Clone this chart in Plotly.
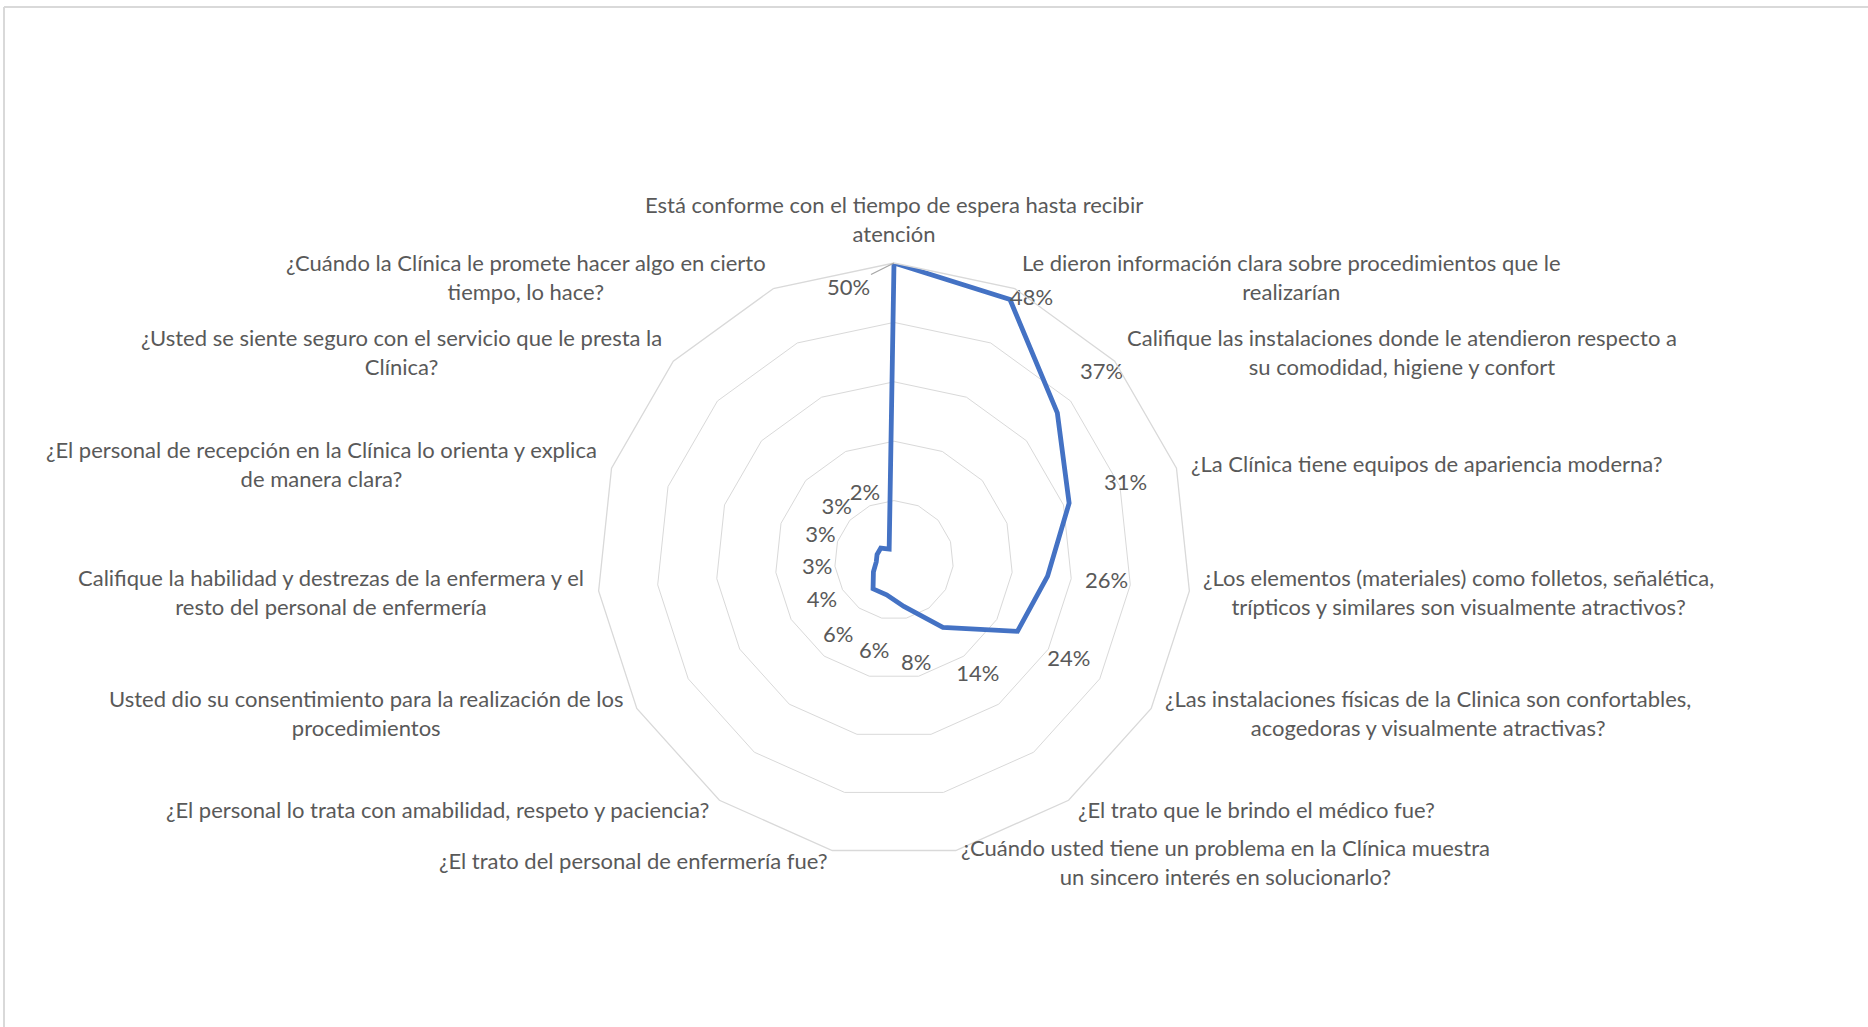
import plotly.graph_objects as go

# Survey items (clockwise from the top) and the share of answers for each one
categories = [
    "Está conforme con el tiempo de espera hasta recibir<br>atención",
    "Le dieron información clara sobre procedimientos que le<br>realizarían",
    "Califique las instalaciones donde le atendieron respecto a<br>su comodidad, higiene y confort",
    "¿La Clínica tiene equipos de apariencia moderna?",
    "¿Los elementos (materiales) como folletos, señalética,<br>trípticos y similares son visualmente atractivos?",
    "¿Las instalaciones físicas de la Clinica son confortables,<br>acogedoras y visualmente atractivas?",
    "¿El trato que le brindo el médico fue?",
    "¿Cuándo usted tiene un problema en la Clínica muestra<br>un sincero interés en solucionarlo?",
    "¿El trato del personal de enfermería fue?",
    "¿El personal lo trata con amabilidad, respeto y paciencia?",
    "Usted dio su consentimiento para la realización de los<br>procedimientos",
    "Califique la habilidad y destrezas de la enfermera y el<br>resto del personal de enfermería",
    "¿El personal de recepción en la Clínica lo orienta y explica<br>de manera clara?",
    "¿Usted se siente seguro con el servicio que le presta la<br>Clínica?",
    "¿Cuándo la Clínica le promete hacer algo en cierto<br>tiempo, lo hace?",
]
values = [50, 48, 37, 31, 26, 24, 14, 8, 6, 6, 4, 3, 3, 3, 2]
radial_ticks = [0, 10, 20, 30, 40, 50]

W, H = 1868, 1027
TEXT = "#595959"
GRID = "#D9D9D9"
FONT = "Lato"
FS = 22

# polar area in pixels: centre and outer radius
CX, CY, R = 894, 560, 297
RMAX = radial_ticks[-1]

# label block placement: (xanchor, x pixel of anchored edge, y pixel of block centre)
label_layout = [
    ("center", 894, 219),
    ("left", 1020, 277),
    ("left", 1125, 352),
    ("left", 1189, 463),
    ("left", 1201, 592),
    ("left", 1163, 713),
    ("left", 1076, 809),
    ("left", 959, 862),
    ("right", 830, 860),
    ("right", 711, 809),
    ("right", 625, 713),
    ("right", 586, 592),
    ("right", 599, 464),
    ("right", 664, 352),
    ("right", 768, 277),
]

fig = go.Figure()

# the series outline
fig.add_trace(go.Scatterpolar(
    r=values + values[:1],
    theta=categories + categories[:1],
    mode="lines",
    line=dict(color="#4472C4", width=4.8),
    hoverinfo="skip",
))

# value labels, pushed outward along each spoke
lab_r, lab_pos, lab_txt = [], [], []
for i, v in enumerate(values):
    if i == 0:
        lab_r.append(v)
        lab_pos.append("middle center")
        lab_txt.append("")
    elif i == 1:
        lab_r.append(v)
        lab_pos.append("middle right")
        lab_txt.append(f"{v}%")
    else:
        lab_r.append(v + 10)
        lab_pos.append("middle center")
        lab_txt.append(f"{v}%")

fig.add_trace(go.Scatterpolar(
    r=lab_r,
    theta=categories,
    mode="text",
    text=lab_txt,
    textposition=lab_pos,
    textfont=dict(family=FONT, size=FS, color=TEXT),
    cliponaxis=False,
    hoverinfo="skip",
))

annotations = []
# first value label with its leader line
top_y = CY - R * values[0] / RMAX
annotations.append(dict(
    x=CX / W, y=1 - top_y / H, xref="paper", yref="paper",
    text=f"{values[0]}%", showarrow=True, arrowhead=0, arrowwidth=1.3,
    arrowcolor="#A6A6A6", ax=-46, ay=23, standoff=0,
    font=dict(family=FONT, size=FS, color=TEXT),
))

# category labels around the chart
for name, (anc, px, py) in zip(categories, label_layout):
    annotations.append(dict(
        x=px / W, y=1 - py / H, xref="paper", yref="paper",
        xanchor=anc, yanchor="middle", align="center",
        text=name, showarrow=False,
        font=dict(family=FONT, size=FS, color=TEXT),
    ))

fig.update_layout(
    width=W, height=H,
    margin=dict(l=0, r=0, t=0, b=0),
    paper_bgcolor="white",
    plot_bgcolor="white",
    showlegend=False,
    font=dict(family=FONT, size=FS, color=TEXT),
    polar=dict(
        domain=dict(x=[(CX - R) / W, (CX + R) / W],
                    y=[1 - (CY + R) / H, 1 - (CY - R) / H]),
        bgcolor="white",
        gridshape="linear",
        radialaxis=dict(
            range=[0, RMAX], tickvals=radial_ticks, showticklabels=False,
            ticks="", showline=False, gridcolor=GRID, gridwidth=1.3,
        ),
        angularaxis=dict(
            type="category", direction="clockwise", rotation=90,
            showgrid=False, showticklabels=False, ticks="",
            showline=True, linecolor=GRID, linewidth=1.3,
        ),
    ),
    annotations=annotations,
    shapes=[
        dict(type="line", xref="paper", yref="paper",
             x0=4 / W, y0=1 - 7 / H, x1=1, y1=1 - 7 / H,
             line=dict(color=GRID, width=2)),
        dict(type="line", xref="paper", yref="paper",
             x0=4 / W, y0=1 - 7 / H, x1=4 / W, y1=0,
             line=dict(color=GRID, width=2)),
    ],
)

fig.write_html("out.html")
